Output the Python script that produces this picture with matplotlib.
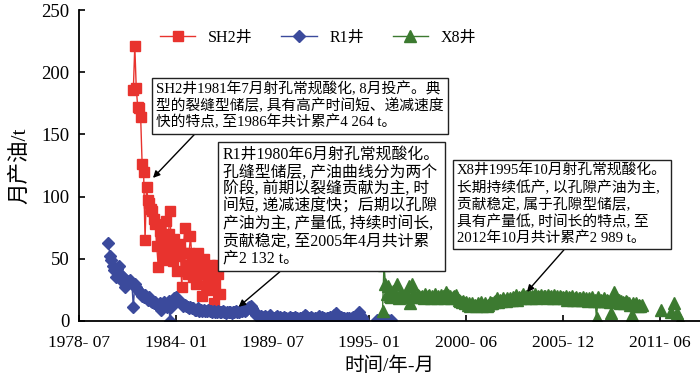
import numpy as np
import matplotlib
matplotlib.use('Agg')
import matplotlib.pyplot as plt
from matplotlib.lines import Line2D

plt.rcParams['font.family'] = ['Liberation Serif', 'Noto Sans CJK SC']
plt.rcParams['axes.unicode_minus'] = False

# monthly production, t
sh2_start = 1981 + 7 / 12  # 1981-08
sh2 = [186, 221, 187, 172, 171, 164, 126, 120, 65, 108, 97, 95, 90, 88, 82, 78,
       60, 43, 72, 65, 58, 49, 80, 62, 70, 88, 55, 48, 66, 58, 40, 52,
       62, 27, 55, 75, 45, 38, 55, 68, 50, 35, 42, 30, 55, 47, 38, 20,
       50, 44, 28, 35, 45, 25, 40, 14, 30, 45, 38, 22]

r1_start = 1980 + 2 / 12  # 1980-03
nan = np.nan
r1 = [63, 52, 49, 44, 41, 35, 42, 44, 38, 36,
      31, 27, 33, 31, 32, 33, 30, 11, 30, 27, 25, 24,
      22, 20, 19, 21, 18, 17, 19, 16, 15, 14, 15, 13,
      12, 14, 9, 12, 15, 13, 11, 16, 0, 11, 17, 18,
      19, 17, 16, 15, 14, 12, 13, 12, 11, 10, 11, 10,
      10, 9, 9, 10, 8, 9, 8, 9, 8, 8, 9, 8,
      8, 7, 8, 7, 7, 8, 7, 7, 8, 7, 6, 7,
      7, 7, 6, 7, 7, 8, 7, 7, 8, 8, 9, 8,
      9, 10, 11, 12, 10, 8, 6, 5, 4, 3, 4, 3,
      3, 4, 2, 3, 5, 3, 2, 2, 3, 4, 2, 3,
      2, 2, 3, 2, 1, 2, 3, 2, 2, 3, 2, 2,
      1, 2, 2, 3, 5, 4, 2, 2, 3, 2, 1, 2,
      2, 2, 4, 2, 3, 2, 1, 2, 2, 3, 2, 2,
      5, 6, 4, 2, 2, 3, 2, 2, 1, 2, 2, 1,
      2, 3, 2, 3, 5, 7, 4, 2, 1,
      nan, nan, nan, nan, nan, nan, nan, nan,
      1, 0, 1, 1, 0, 1, 0, 1, 1, 0, 1]

x8_start = 1995 + 9 / 12  # 1995-10
x8 = [8, 45, 30,
      22, 28, 20, 19, 24, 21, 20, 30, 18, 22, 19, 20,
      21, 19, 20, 28, 14, 30, 22, 20, 19, 21, 20, 19,
      20, 18, 22, 19, 20, 21, 18, 20, 19, 22, 18, 20,
      19, 21, 20, 18, 23, 19, 21, 20, 18, 19, 20, 21,
      18, 17, 16, 15, 16, 14, 15, 13, 14, 12, 14, 13,
      13, 12, 14, 13, 15, 12, 13, 14, 12, 13, 15, 14,
      14, 15, 16, 18, 15, 17, 16, 18, 17, 16, 18, 17,
      18, 17, 19, 18, 21, 17, 19, 18, 20, 22, 18, 20,
      19, 21, 18, 20, 19, 22, 18, 20, 19, 21, 19, 20,
      20, 18, 21, 19, 20, 18, 21, 19, 20, 18, 20, 19,
      19, 18, 20, 17, 19, 18, 20, 17, 18, 19, 17, 18,
      18, 17, 19, 17, 18, 16, 18, 17, 19, 16, 17, 2,
      19, 16, 17, 16, 18, 16, 17, 16, 15, 6, 17, 23,
      16, 15, 17, 14, 16, 15, 14, 16, 15, 14, 13, 5,
      14, 13, 14, 12, 13, 12, 13,
      nan, nan, nan, nan, nan, nan, nan, nan, nan, nan, nan, nan,
      9, nan, nan, nan, nan, nan, nan, 7, nan, 14, nan, 6, nan, 1]

tick_pos = [1978.5, 1984.0, 1989.5, 1995.0, 2000.5, 2006.0, 2011.5]
tick_lab = ['1978- 07', '1984- 01', '1989- 07', '1995- 01', '2000- 06', '2005- 12', '2011- 06']

red = '#e8332e'
blue = '#3b4a9c'
green = '#3c7a30'

fig = plt.figure(figsize=(7, 3.88), dpi=100)
ax = fig.add_axes([0.113, 0.173, 0.887, 0.801])

x_sh2 = sh2_start + np.arange(len(sh2)) / 12
x_r1 = r1_start + np.arange(len(r1)) / 12
x_x8 = x8_start + np.arange(len(x8)) / 12

ax.plot(x_sh2, sh2, '-s', color=red, ms=7.5, lw=1, label='SH2井')
ax.plot(x_r1, r1, '-D', color=blue, ms=5.8, lw=1, label='R1井')
ax.plot(x_x8, x8, '-^', color=green, ms=8.5, lw=1, label='X8井')

ax.set_xlim(1978.5, 2013.8)
ax.set_ylim(0, 250)
ax.set_xticks(tick_pos)
ax.set_xticklabels(tick_lab, fontsize=12.5)
ax.set_yticks([0, 50, 100, 150, 200, 250])
ax.tick_params(axis='y', labelsize=13.5, direction='in', length=4, width=1.2, pad=7)
ax.tick_params(axis='x', direction='in', length=4, width=1.2, pad=10)
for s in ['top', 'right']:
    ax.spines[s].set_visible(False)
for s in ['left', 'bottom']:
    ax.spines[s].set_linewidth(1.3)

ax.set_ylabel('月产油/t', fontsize=15.5, labelpad=8)
ax.set_xlabel('时间/年-月', fontsize=14, labelpad=4)

handles = [Line2D([], [], color=red, marker='s', ms=7.5, lw=1),
           Line2D([], [], color=blue, marker='D', ms=5.8, lw=1),
           Line2D([], [], color=green, marker='^', ms=8.5, lw=1)]
ax.legend(handles, ['SH2井', 'R1井', 'X8井'], ncol=3, frameon=False, fontsize=11.5,
          loc='center', bbox_to_anchor=(0.385, 0.91), handlelength=2.2, columnspacing=1.8)

box = dict(boxstyle='square,pad=0.3', fc='white', ec='#222222', lw=1)

t1 = 'SH2井1981年7月射孔常规酸化, 8月投产。典\n型的裂缝型储层, 具有高产时间短、递减速度\n快的特点, 至1986年共计累产4 264 t。'
t2 = 'R1井1980年6月射孔常规酸化。\n孔缝型储层, 产油曲线分为两个\n阶段, 前期以裂缝贡献为主, 时\n间短, 递减速度快；后期以孔隙\n产油为主, 产量低, 持续时间长,\n贡献稳定, 至2005年4月共计累\n产2 132 t。'
t3 = 'X8井1995年10月射孔常规酸化。\n长期持续低产, 以孔隙产油为主,\n贡献稳定, 属于孔隙型储层,\n具有产量低, 时间长的特点, 至\n2012年10月共计累产2 989 t。'

ann_kw = dict(textcoords='figure pixels', ha='left', va='top', bbox=box)
arr = dict(arrowstyle='-|>', color='black', lw=1, mutation_scale=10, shrinkA=0, shrinkB=0)

ax.annotate(t1, xy=(1982.70, 115), xytext=(156, 388 - 82), fontsize=10.6, linespacing=1.15,
            arrowprops=dict(arr, relpos=(0.15, 0)), **ann_kw)
ax.annotate(t2, xy=(1987.57, 11.3), xytext=(223, 388 - 147), fontsize=11.4, linespacing=1.1,
            arrowprops=dict(arr, relpos=(0.29, 0)), **ann_kw)
ax.annotate(t3, xy=(2003.96, 23.3), xytext=(457, 388 - 164), fontsize=10.6, linespacing=1.2,
            arrowprops=dict(arr, relpos=(0.53, 0)), **ann_kw)

fig.savefig('out.png', dpi=100)
